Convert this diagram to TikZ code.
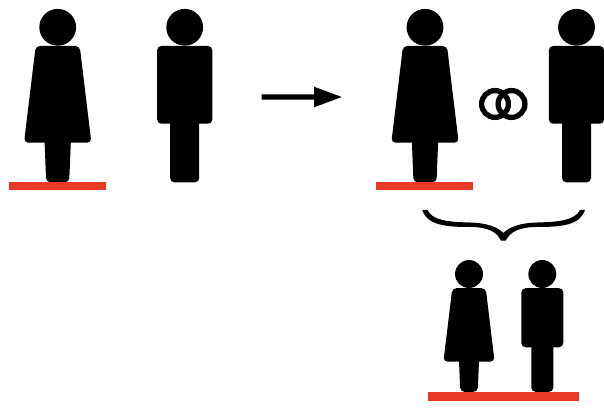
\documentclass[tikz,border=0pt]{standalone}
\definecolor{floorred}{HTML}{E93A25}
\tikzset{
  figure/.style={fill=black, rounded corners=2.4pt},
  pics/woman/.style={code={
    \fill (0,0) circle (18.4);
    \path[figure] (-22,18.7) -- (22,18.7) -- (33.7,115.4) -- (-33.7,115.4) -- cycle;
    \path[figure] (-13.5,105) -- (13.5,105) -- (11.5,155) -- (-11.5,155) -- cycle;
  }},
  pics/man/.style={code={
    \fill (0,0) circle (18.4);
    \path[figure] (-27.6,18.7) rectangle (27.6,96.4);
    \path[figure] (-14.5,85) rectangle (14.5,155);
  }},
  floor/.style={fill=floorred}
}
\begin{document}
\begin{tikzpicture}[x=0.02cm, y=-0.02cm]
  \useasboundingbox (0,0) rectangle (604,408);

  % first row, before
  \pic at (57.7,27.3) {woman};
  \pic at (184.7,27.3) {man};
  \fill[floor] (9.3,181.7) rectangle (106,190.3);

  % arrow between the rows of figures
  \fill (261.7,94.4) -- (314,94.4) -- (314,86.7) -- (341.7,97) -- (314,107.3) -- (314,99.6) -- (261.7,99.6) -- cycle;

  % first row, after
  \pic at (425,27.3) {woman};
  \pic at (576.5,27.3) {man};
  \fill[floor] (376,181.7) rectangle (473,190.3);

  % rings
  \foreach \x in {495,511.5}
    {\draw[line width=3pt] (\x,104) circle (13.4);}

  % brace, wider at the ends than at the tip
  \fill (422.3,210) .. controls (427,225) and (445,227) .. (470,227)
    .. controls (488,227) and (497,232) .. (500.8,240.5)
    -- (505.8,240.5) .. controls (510,232) and (519,227) .. (537,227)
    .. controls (562,227) and (580,225) .. (585,210)
    -- (580,210) .. controls (575,220) and (560,222) .. (537,222.5)
    .. controls (520,223) and (509,227) .. (503.3,233)
    .. controls (497.5,227) and (487,223) .. (470,222.5)
    .. controls (447,222) and (432,220) .. (427.5,210) -- cycle;

  % couple below
  \pic[scale=0.76] at (469,274) {woman};
  \pic[scale=0.76] at (542.3,274) {man};
  \fill[floor] (427.7,392) rectangle (579.3,400.7);
\end{tikzpicture}
\end{document}
